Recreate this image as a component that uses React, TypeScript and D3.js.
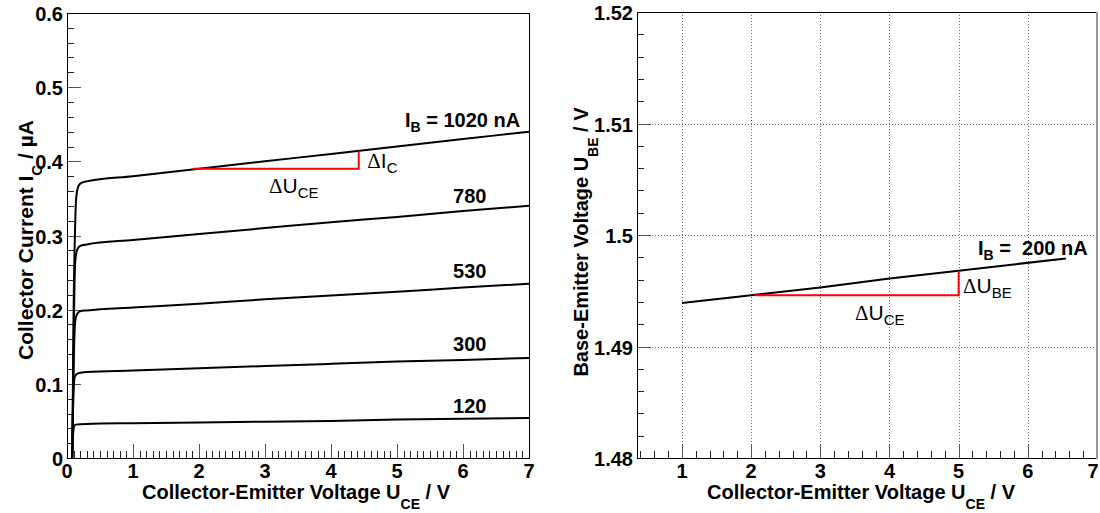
import React from 'react';
import * as d3 from 'd3';

const W = 1100;
const H = 513;
const SANS = "'Liberation Sans', Arial, Helvetica, sans-serif";
const SERIF = "'Liberation Serif', 'Times New Roman', serif";

// ---------- Left panel data: output characteristics I_C(U_CE) ----------
const leftXTicks = [0, 1, 2, 3, 4, 5, 6, 7];
const leftYTicks = [0, 0.1, 0.2, 0.3, 0.4, 0.5, 0.6];
const leftYTickLabels = ['0', '0.1', '0.2', '0.3', '0.4', '0.5', '0.6'];

const ib1020: [number, number][] = [[0.08, 0], [0.09, 0.1], [0.1, 0.2], [0.12, 0.3], [0.135, 0.345], [0.16, 0.363], [0.2, 0.37], [0.3, 0.373], [1, 0.38], [2, 0.39], [3, 0.4], [4, 0.41], [5, 0.42], [6, 0.43], [7, 0.44]];
const ib780: [number, number][] = [[0.08, 0], [0.09, 0.08], [0.1, 0.16], [0.115, 0.24], [0.13, 0.27], [0.16, 0.282], [0.2, 0.286], [0.3, 0.288], [1, 0.294], [2, 0.302], [3, 0.31], [4, 0.318], [5, 0.325], [6, 0.333], [7, 0.34]];
const ib530: [number, number][] = [[0.08, 0], [0.09, 0.06], [0.1, 0.12], [0.115, 0.17], [0.13, 0.188], [0.16, 0.195], [0.2, 0.198], [0.3, 0.199], [1, 0.203], [2, 0.208], [3, 0.214], [4, 0.219], [5, 0.224], [6, 0.23], [7, 0.235]];
const ib300: [number, number][] = [[0.075, 0], [0.085, 0.04], [0.095, 0.08], [0.105, 0.1], [0.12, 0.11], [0.16, 0.114], [0.3, 0.116], [1, 0.118], [2, 0.121], [3, 0.124], [4, 0.127], [5, 0.13], [6, 0.132], [7, 0.135]];
const ib120: [number, number][] = [[0.075, 0], [0.085, 0.02], [0.095, 0.035], [0.105, 0.042], [0.13, 0.045], [0.3, 0.046], [1, 0.047], [2, 0.048], [3, 0.049], [4, 0.05], [5, 0.052], [6, 0.053], [7, 0.054]];
const leftCurves = [ib1020, ib780, ib530, ib300, ib120];
const leftCurveLabels = ['1020', '780', '530', '300', '120'];

// slope triangle on the 1020 nA curve: [U_CE start, U_CE end], [I_C base, I_C top]
const leftTriX = [1.91, 4.42];
const leftTriY = [0.39, 0.414];

// ---------- Right panel data: U_BE(U_CE) ----------
const rightXTicks = [1, 2, 3, 4, 5, 6, 7];
const rightYTicks = [1.48, 1.49, 1.5, 1.51, 1.52];
const rightYTickLabels = ['1.48', '1.49', '1.5', '1.51', '1.52'];
const ube200: [number, number][] = [[1, 1.4939], [2, 1.4946], [3, 1.4953], [4, 1.4961], [5, 1.4968], [6.55, 1.4979]];
const rightTriX = [2.05, 5.0];
const rightTriY = [1.4946, 1.4968];

type Part = { t: string; sub?: boolean; serif?: boolean };

function Rich({ x, y, parts, size, subSize, subDy, weight, anchor, rotate, subWeight }: {
  x: number; y: number; parts: Part[]; size: number; subSize: number; subDy: number;
  weight: string; anchor?: string; rotate?: boolean; subWeight?: string;
}) {
  let prevSub = false;
  return (
    <text
      x={x}
      y={y}
      fontFamily={SANS}
      fontSize={size}
      fontWeight={weight}
      textAnchor={anchor || 'start'}
      fill="#000"
      style={{ whiteSpace: 'pre' }}
      transform={rotate ? `rotate(-90 ${x} ${y})` : undefined}
    >
      {parts.map((p, i) => {
        let dy = 0;
        if (p.sub && !prevSub) dy = subDy;
        if (!p.sub && prevSub) dy = -subDy;
        prevSub = !!p.sub;
        return (
          <tspan
            key={i}
            dy={dy || undefined}
            fontSize={p.sub ? subSize : size}
            fontFamily={p.serif ? SERIF : SANS}
            fontWeight={p.sub && subWeight ? subWeight : undefined}
          >
            {p.t}
          </tspan>
        );
      })}
    </text>
  );
}

function Axes({ xs, ys, xMajor, xMinor, yMajor, yMinor, xLabels, yLabels, grid }: any) {
  const [x0, x1] = xs.range();
  const [yb, yt] = ys.range();
  const major = 14;
  const minor = 7;
  return (
    <g>
      {grid && (
        <g stroke="#666" strokeWidth={1} strokeDasharray="1 2">
          {xMajor.filter((v: number) => xs(v) > x0 + 2 && xs(v) < x1 - 2).map((v: number) => (
            <line key={'gx' + v} x1={Math.round(xs(v)) + 0.5} x2={Math.round(xs(v)) + 0.5} y1={yt} y2={yb} />
          ))}
          {yMajor.filter((v: number) => ys(v) < yb - 2 && ys(v) > yt + 2).map((v: number) => (
            <line key={'gy' + v} x1={x0} x2={x1} y1={Math.round(ys(v)) + 0.5} y2={Math.round(ys(v)) + 0.5} />
          ))}
        </g>
      )}
      <g stroke="#222" strokeWidth={1}>
        {yMinor.map((v: number) => (
          <line key={'ym' + v} x1={x0} x2={x0 + minor} y1={Math.round(ys(v)) + 0.5} y2={Math.round(ys(v)) + 0.5} />
        ))}
        {yMajor.map((v: number) => (
          <line key={'yM' + v} x1={x0} x2={x0 + major} y1={Math.round(ys(v)) + 0.5} y2={Math.round(ys(v)) + 0.5} stroke="#555" />
        ))}
        {xMinor.map((v: number) => (
          <line key={'xm' + v} x1={Math.round(xs(v)) + 0.5} x2={Math.round(xs(v)) + 0.5} y1={yb} y2={yb - minor} />
        ))}
        {xMajor.map((v: number) => (
          <line key={'xM' + v} x1={Math.round(xs(v)) + 0.5} x2={Math.round(xs(v)) + 0.5} y1={yb} y2={yb - major} stroke="#555" />
        ))}
      </g>
      <rect x={x0 + 0.5} y={yt + 0.5} width={x1 - x0} height={yb - yt} fill="none" stroke="#000" strokeWidth={1} />
      <g fontFamily={SANS} fontWeight="bold" fontSize={20} fill="#000">
        {xMajor.map((v: number, i: number) => (
          <text key={'xl' + v} x={Math.min(xs(v), W - 7)} y={yb + 20} textAnchor="middle">{xLabels[i]}</text>
        ))}
        {yMajor.map((v: number, i: number) => (
          <text key={'yl' + v} x={x0 - 4} y={ys(v) + 8} textAnchor="end">{yLabels[i]}</text>
        ))}
      </g>
    </g>
  );
}

export default function App() {
  // Left panel scales
  const lx = d3.scaleLinear().domain([0, 7]).range([67, 529]);
  const ly = d3.scaleLinear().domain([0, 0.6]).range([458, 13]);
  // Right panel scales
  const rx = d3.scaleLinear().domain([0.35, 7]).range([637, 1097]);
  const ry = d3.scaleLinear().domain([1.48, 1.52]).range([458, 12]);

  const lLine = d3.line<[number, number]>().x(d => lx(d[0])).y(d => ly(d[1])).curve(d3.curveMonotoneX);
  const rLine = d3.line<[number, number]>().x(d => rx(d[0])).y(d => ry(d[1]));

  const lxMinor = d3.range(0, 7.0001, 0.1).map(v => +v.toFixed(2));
  const lyMinor = d3.range(0, 0.6001, 0.02).map(v => +v.toFixed(3));
  const rxMinor = d3.range(0.4, 7.0001, 0.2).map(v => +v.toFixed(2));
  const ryMinor = d3.range(1.48, 1.52001, 0.002).map(v => +v.toFixed(4));

  const labelX = 5.85;
  const labelY = [0.446, 0.344, 0.243, 0.144, 0.061];

  return (
    <svg width={W} height={H} style={{ position: 'absolute', left: 0, top: 0, background: '#fff' }}>
      <rect x={0} y={0} width={W} height={H} fill="#fff" />

      {/* ---------- Left panel ---------- */}
      <Axes xs={lx} ys={ly} xMajor={leftXTicks} xMinor={lxMinor} yMajor={leftYTicks} yMinor={lyMinor}
        xLabels={leftXTicks.map(String)} yLabels={leftYTickLabels} />
      <g fill="none" stroke="#000" strokeWidth={2}>
        {leftCurves.map((c, i) => <path key={i} d={lLine(c) || ''} />)}
      </g>
      <path
        d={`M${lx(leftTriX[0])},${ly(leftTriY[0])} L${lx(leftTriX[1])},${ly(leftTriY[0])} L${lx(leftTriX[1])},${ly(leftTriY[1])}`}
        fill="none" stroke="#f00" strokeWidth={2}
      />
      <Rich x={lx(5.12)} y={ly(labelY[0])} size={20} subSize={14} subDy={5} weight="bold"
        parts={[{ t: 'I' }, { t: 'B', sub: true }, { t: ' = ' + leftCurveLabels[0] + ' nA' }]} />
      {leftCurveLabels.slice(1).map((l, i) => (
        <text key={l} x={lx(labelX)} y={ly(labelY[i + 1])} fontFamily={SANS} fontWeight="bold" fontSize={20}>{l}</text>
      ))}
      <Rich x={lx(4.55)} y={168} size={21} subSize={15} subDy={5} weight="normal"
        parts={[{ t: 'Δ', serif: true }, { t: 'I' }, { t: 'C', sub: true }]} />
      <Rich x={lx(3.06)} y={193} size={21} subSize={15} subDy={5} weight="normal"
        parts={[{ t: 'Δ', serif: true }, { t: 'U' }, { t: 'CE', sub: true }]} />
      <Rich x={142} y={499} size={20} subSize={14} subDy={10} weight="bold"
        parts={[{ t: 'Collector-Emitter Voltage U' }, { t: 'CE', sub: true }, { t: ' / V' }]} />
      <Rich x={33} y={240} size={21} subSize={15} subDy={9} weight="bold" anchor="middle" rotate
        parts={[{ t: 'Collector Current I' }, { t: 'C', sub: true }, { t: ' / µA' }]} />

      {/* ---------- Right panel ---------- */}
      <Axes xs={rx} ys={ry} xMajor={rightXTicks} xMinor={rxMinor} yMajor={rightYTicks} yMinor={ryMinor}
        xLabels={rightXTicks.map(String)} yLabels={rightYTickLabels} grid />
      <line x1={1097} x2={1097} y1={12} y2={459} stroke="#999" strokeWidth={2} />
      <path d={rLine(ube200) || ''} fill="none" stroke="#000" strokeWidth={2} />
      <path
        d={`M${rx(rightTriX[0])},${ry(rightTriY[0])} L${rx(rightTriX[1])},${ry(rightTriY[0])} L${rx(rightTriX[1])},${ry(rightTriY[1])}`}
        fill="none" stroke="#f00" strokeWidth={2}
      />
      <Rich x={978} y={255} size={20} subSize={14} subDy={5} weight="bold"
        parts={[{ t: 'I' }, { t: 'B', sub: true }, { t: ' =\u00a0 200 nA' }]} />
      <Rich x={963} y={293} size={21} subSize={15} subDy={5} weight="normal"
        parts={[{ t: 'Δ', serif: true }, { t: 'U' }, { t: 'BE', sub: true }]} />
      <Rich x={855} y={320} size={21} subSize={15} subDy={5} weight="normal"
        parts={[{ t: 'Δ', serif: true }, { t: 'U' }, { t: 'CE', sub: true }]} />
      <Rich x={707} y={499} size={20} subSize={14} subDy={10} weight="bold"
        parts={[{ t: 'Collector-Emitter Voltage U' }, { t: 'CE', sub: true }, { t: ' / V' }]} />
      <Rich x={588} y={242} size={20} subSize={14} subDy={10} weight="bold" anchor="middle" rotate
        parts={[{ t: 'Base-Emitter Voltage U' }, { t: 'BE', sub: true }, { t: ' / V' }]} />
    </svg>
  );
}
